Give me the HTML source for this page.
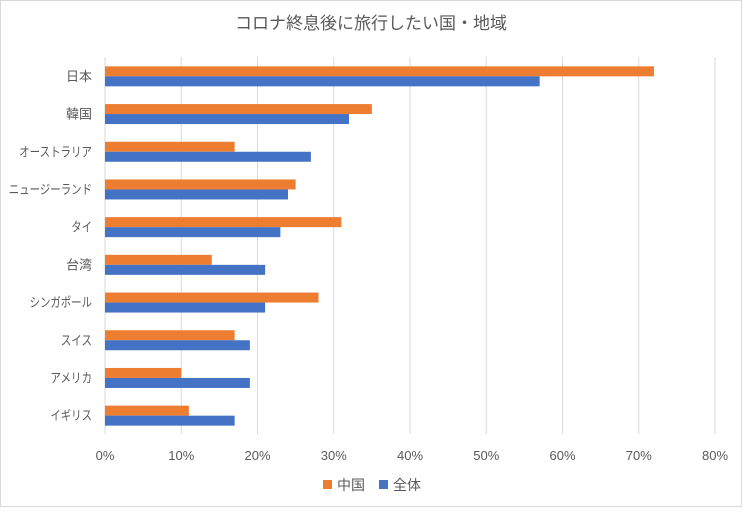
<!DOCTYPE html>
<html><head><meta charset="utf-8"><style>
body{margin:0;background:#fff;}
svg text{font-family:"Liberation Sans","Noto Sans CJK JP",sans-serif;fill:#595959;}
</style></head><body>
<svg id="chart" width="742" height="507">
<rect x="0.5" y="0.5" width="741" height="506" fill="#fff" stroke="#d9d9d9"/>
<text x="371" y="29" text-anchor="middle" font-size="17">コロナ終息後に旅行したい国・地域</text>
<g id="grid"></g><g id="bars"></g><g id="labels"></g>
<g>
<rect x="323" y="480" width="9" height="9" fill="#ed7d31"/>
<text x="337" y="490" font-size="14">中国</text>
<rect x="379" y="480" width="9" height="9" fill="#4472c4"/>
<text x="393" y="490" font-size="14">全体</text>
</g>
</svg>
<script>
const categories=["日本","韓国","オーストラリア","ニュージーランド","タイ","台湾","シンガポール","スイス","アメリカ","イギリス"];
const chinaValues=[72,35,17,25,31,14,28,17,10,11];
const allValues=[57,32,27,24,23,21,21,19,19,17];
const tickLabels=["0%","10%","20%","30%","40%","50%","60%","70%","80%"];
const NS="http://www.w3.org/2000/svg";
const x0=105,x1=715,y0=57,y1=434,maxV=80;
const xs=v=>x0+(x1-x0)*v/maxV;
const band=(y1-y0)/categories.length;
function mk(tag,attrs,parent){const e=document.createElementNS(NS,tag);for(const k in attrs)e.setAttribute(k,attrs[k]);document.getElementById(parent).appendChild(e);return e;}
tickLabels.forEach((t,i)=>{
 const v=i*10;
 const l=mk("line",{x1:xs(v),x2:xs(v),y1:y0,y2:y1,stroke:"#d9d9d9"},"grid");
 
 
 const tx=mk("text",{x:xs(v),y:460,"text-anchor":"middle","font-size":"13"},"labels");
 tx.textContent=t;
 
 
});
categories.forEach((c,i)=>{
 const cy=y0+band*i+band/2;
 const b1=mk("rect",{x:x0,y:cy-9.5,width:xs(chinaValues[i])-x0,height:10,fill:"#ed7d31"},"bars");
 
 
 const b2=mk("rect",{x:x0,y:cy+0.5,width:xs(allValues[i])-x0,height:10,fill:"#4472c4"},"bars");
 
 
 const attrs={x:92,y:cy+5,"text-anchor":"end","font-size":"13"};
 if(!/[\u4e00-\u9fff]/.test(c)){attrs.textLength=(c.length*10.4).toFixed(1);attrs.lengthAdjust="spacingAndGlyphs";}
 const t=mk("text",attrs,"labels");
 t.textContent=c;
 
 
});
</script>
</body></html>
